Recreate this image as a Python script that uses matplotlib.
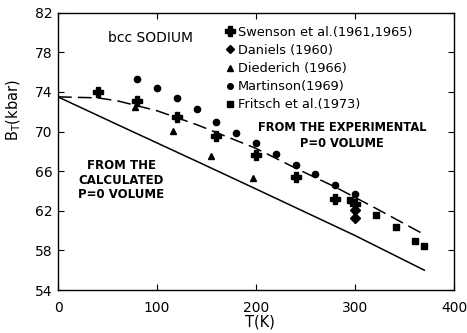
import matplotlib
matplotlib.use('Agg')
import matplotlib.pyplot as plt

# Data (T in K, B_T in kbar)
swenson_T = [40, 80, 120, 160, 200, 240, 280, 300]
swenson_B = [74.0, 73.1, 71.5, 69.6, 67.6, 65.4, 63.2, 62.7]

daniels_T = [300, 300]
daniels_B = [62.1, 61.3]

diederich_T = [78, 116, 155, 197]
diederich_B = [72.5, 70.1, 67.5, 65.3]

martinson_T = [80, 100, 120, 140, 160, 180, 200, 220, 240, 260, 280, 300]
martinson_B = [75.3, 74.4, 73.4, 72.3, 71.0, 69.9, 68.8, 67.7, 66.6, 65.7, 64.6, 63.7]

fritsch_T = [295, 321, 341, 361, 370]
fritsch_B = [63.1, 61.55, 60.4, 58.9, 58.4]

# theory curves
exp_vol_T = [0, 40, 60, 80, 100, 120, 140, 160, 200, 240, 280, 320, 370]
exp_vol_B = [73.5, 73.4, 73.1, 72.6, 72.1, 71.4, 70.7, 69.9, 68.3, 66.3, 64.4, 62.3, 59.6]

calc_vol_T = [0, 60, 140, 200, 300, 370]
calc_vol_B = [73.5, 70.7, 67.0, 64.2, 59.5, 56.0]

plt.rcParams['font.family'] = ['DejaVu Sans']

fig = plt.figure(figsize=(4.67, 3.33), dpi=100)
ax = fig.add_axes([0.1242, 0.1291, 0.848, 0.8328])

ax.plot(exp_vol_T, exp_vol_B, color='black', lw=1.1, dashes=(9, 4))
ax.plot(calc_vol_T, calc_vol_B, color='black', lw=1.1)

ax.plot(swenson_T, swenson_B, 'P', color='black', ms=7.5, ls='none',
        label='Swenson et al.(1961,1965)')
ax.plot(daniels_T, daniels_B, 'D', color='black', ms=5, ls='none',
        label='Daniels (1960)')
ax.plot(diederich_T, diederich_B, '^', color='black', ms=5, ls='none',
        label='Diederich (1966)')
ax.plot(martinson_T, martinson_B, 'o', color='black', ms=4.5, ls='none',
        label='Martinson(1969)')
ax.plot(fritsch_T, fritsch_B, 's', color='black', ms=4.5, ls='none',
        label='Fritsch et al.(1973)')

ax.legend(loc='upper left', bbox_to_anchor=(0.425, 0.953), frameon=False,
          borderpad=0, borderaxespad=0, handlelength=0.6, handletextpad=0.3,
          labelspacing=0.4, prop={'size': 9.3}, markerscale=0.9)

ax.text(50, 79.4, 'bcc SODIUM', fontsize=10, va='center', ha='left')
ax.text(64, 65.1, 'FROM THE\nCALCULATED\nP=0 VOLUME', fontsize=8.5,
        fontweight='bold', ha='center', va='center', linespacing=1.15)
ax.text(287, 69.6, 'FROM THE EXPERIMENTAL\nP=0 VOLUME', fontsize=8.3,
        fontweight='bold', ha='center', va='center', linespacing=1.35)

ax.set_xlim(0, 400)
ax.set_ylim(54, 82)
ax.set_xticks([0, 100, 200, 300, 400])
ax.set_yticks(range(54, 83, 4))
ax.tick_params(direction='in', top=True, right=True, length=4, width=0.8,
               labelsize=10)
ax.tick_params(axis='x', pad=8)
ax.tick_params(axis='y', pad=4)
for s in ax.spines.values():
    s.set_linewidth(1.0)

ax.set_xlabel('T(K)', fontsize=10.5)
ax.xaxis.set_label_coords(0.51, -0.09)
ax.set_ylabel(r'B$_\mathrm{T}$(kbar)', fontsize=10.5)
ax.yaxis.set_label_coords(-0.088, 0.65)

fig.savefig('out.png', dpi=100)
